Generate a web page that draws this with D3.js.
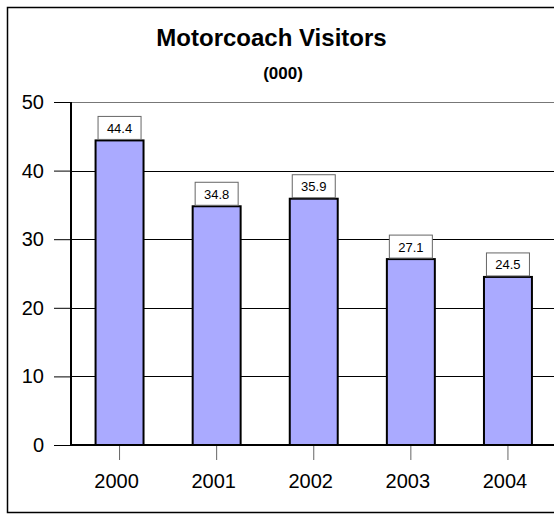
<!DOCTYPE html>
<html>
<head>
<meta charset="utf-8">
<script src="https://cdn.jsdelivr.net/npm/d3@7"></script>
<style>
  html, body { margin: 0; padding: 0; background: #fff; }
  svg { display: block; font-family: Arial, "Liberation Sans", sans-serif; }
</style>
</head>
<body>
<svg id="chart" width="554" height="514"></svg>
<script>
const categories = ["2000", "2001", "2002", "2003", "2004"];
const values = [44.4, 34.8, 35.9, 27.1, 24.5];
const yTicks = [0, 10, 20, 30, 40, 50];
const titleText = "Motorcoach Visitors";
const subtitleText = "(000)";

(function () {
const svg = d3.select("#chart");

// outer frame
svg.append("rect")
  .attr("x", 7.5).attr("y", 7.5)
  .attr("width", 560).attr("height", 505)
  .attr("fill", "#fff").attr("stroke", "#000").attr("stroke-width", 1.5);

const pLeft = 71, pTop = 102, pBottom = 445;
const x = d3.scaleBand().domain(categories).range([pLeft, pLeft + 5 * 97.1])
  .paddingInner(0.506).paddingOuter(0.253);
const y = d3.scaleLinear().domain([0, 50]).range([pBottom, pTop]);

// gridlines
svg.append("g").selectAll("line").data(yTicks.filter(d => d > 0)).join("line")
  .attr("x1", pLeft).attr("x2", 554)
  .attr("y1", d => Math.round(y(d)) + 0.5).attr("y2", d => Math.round(y(d)) + 0.5)
  .attr("stroke", d => d === 50 ? "#777" : "#000").attr("stroke-width", 1);

// y axis
const yAxis = d3.axisLeft(y).tickValues(yTicks).tickSize(17).tickPadding(10)
  .tickFormat(d3.format("d"));
const gy = svg.append("g").attr("transform", `translate(${pLeft},0)`).call(yAxis);
gy.select(".domain").remove();
gy.selectAll(".tick line").attr("stroke", "#000");
gy.selectAll(".tick text").attr("font-size", 20).attr("fill", "#000")
  .attr("font-family", "Arial, 'Liberation Sans', sans-serif");

// bars
svg.append("g").selectAll("rect").data(values).join("rect")
  .attr("x", (d, i) => x(categories[i]))
  .attr("y", d => y(d))
  .attr("width", x.bandwidth())
  .attr("height", d => pBottom - y(d))
  .attr("fill", "#aaaaff").attr("stroke", "#000").attr("stroke-width", 2);

// y axis line
svg.append("line").attr("x1", pLeft).attr("x2", pLeft).attr("y1", pTop).attr("y2", pBottom)
  .attr("stroke", "#000").attr("stroke-width", 2);

// x axis
const xAxis = d3.axisBottom(x).tickSize(15).tickPadding(14);
const gx = svg.append("g").attr("transform", `translate(0,${pBottom})`).call(xAxis);
gx.select(".domain").remove();
gx.selectAll(".tick line").attr("stroke", "#666");
gx.selectAll(".tick text").attr("font-size", 20).attr("fill", "#000").attr("dx", -3)
  .attr("font-family", "Arial, 'Liberation Sans', sans-serif");
svg.append("line").attr("x1", pLeft - 1).attr("x2", 554).attr("y1", pBottom).attr("y2", pBottom)
  .attr("stroke", "#000").attr("stroke-width", 2);

// value labels
const lab = svg.append("g").selectAll("g").data(values).join("g")
  .attr("transform", (d, i) => `translate(${x(categories[i]) + x.bandwidth() / 2},${y(d)})`);
lab.append("rect").attr("x", -21.5).attr("y", -24).attr("width", 43).attr("height", 23)
  .attr("fill", "#fff").attr("stroke", "#666").attr("stroke-width", 1);
lab.append("text").attr("text-anchor", "middle").attr("y", -7.5)
  .attr("font-size", 13).attr("fill", "#000").text(d => d3.format(".1f")(d));

// titles
svg.append("text").attr("x", 271.5).attr("y", 46).attr("text-anchor", "middle")
  .attr("font-size", 24).attr("font-weight", "bold").text(titleText);
svg.append("text").attr("x", 283).attr("y", 78.5).attr("text-anchor", "middle")
  .attr("font-size", 17).attr("font-weight", "bold").text(subtitleText);
})();
</script>
</body>
</html>
